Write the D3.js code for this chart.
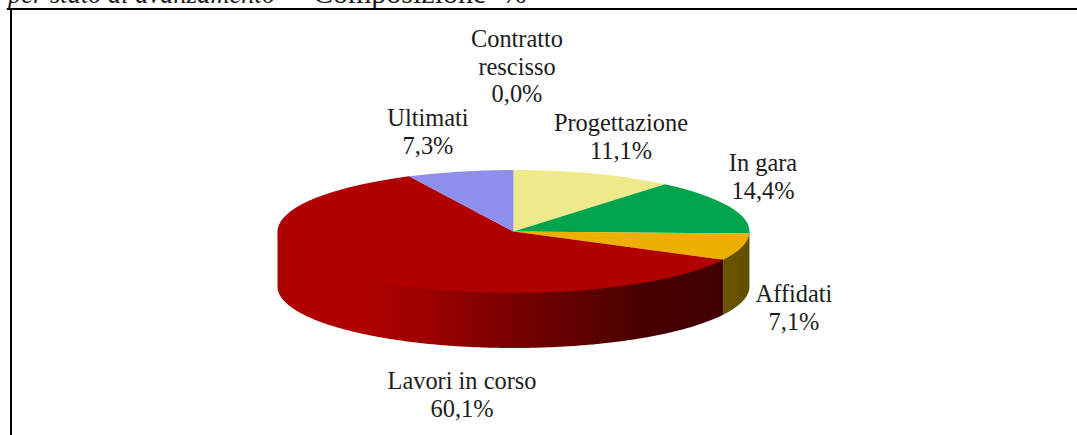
<!DOCTYPE html>
<html><head><meta charset="utf-8"><script src="https://cdn.jsdelivr.net/npm/d3@7"></script>
<style>html,body{margin:0;background:#fff;overflow:hidden}svg{display:block}text{font-family:"Liberation Serif",serif;fill:#1c1c1c}</style></head>
<body><svg id="c" width="1077" height="435"></svg>
<script>
const categories=["Progettazione","In gara","Affidati","Lavori in corso","Contratto rescisso","Ultimati"];
const values=[11.1,14.4,7.1,60.1,0.0,7.3];
const topColors=["#eeea8c","#00a44c","#ecb000","#b00000","#808080","#8e8eec"];
const labelLines=[["Progettazione","11,1%"],["In gara","14,4%"],["Affidati","7,1%"],["Lavori in corso","60,1%"],["Contratto","rescisso","0,0%"],["Ultimati","7,3%"]];
const labelPos=[[621,131],[763,171],[794,302],[462,389],[517,47],[428,126]];

const W=1077,H=435,cx=513.5,cy=231.5,rx=236,ry=61.5,depth=55;
const svg=d3.select("#c");
const defs=svg.append("defs");
const xs=d3.scaleLinear().domain([278,749]).range([0,1]);
const grad=defs.append("linearGradient").attr("id","red").attr("gradientUnits","userSpaceOnUse")
 .attr("x1",278).attr("x2",749).attr("y1",0).attr("y2",0);
[[278,"#aa0000"],[295,"#b00000"],[360,"#b00000"],[430,"#9c0000"],[510,"#7a0000"],[590,"#5c0000"],[650,"#460000"],[749,"#400000"]]
 .forEach(s=>grad.append("stop").attr("offset",xs(s[0])).attr("stop-color",s[1]));
const grad2=defs.append("linearGradient").attr("id","amber").attr("gradientUnits","userSpaceOnUse")
 .attr("x1",723).attr("x2",749).attr("y1",0).attr("y2",0);
grad2.append("stop").attr("offset",0).attr("stop-color","#6a5400");
grad2.append("stop").attr("offset",1).attr("stop-color","#625000");

const pie=d3.pie().sort(null).value(d=>d)(values);
const px=a=>cx+rx*Math.sin(a), py=a=>cy-ry*Math.cos(a);

const wall=d3.line();
pie.forEach((p,i)=>{
  const a0=Math.max(p.startAngle,Math.PI/2), a1=Math.min(p.endAngle,Math.PI*1.5);
  if(a1<=a0) return;
  const as=d3.range(a0,a1,0.01).concat([a1]);
  const top=as.map(a=>[px(a),py(a)-1.5]), bot=as.slice().reverse().map(a=>[px(a),py(a)+depth]);
  svg.append("path").attr("d",wall(top.concat(bot))+"Z")
    .attr("fill",i===3?"url(#red)":i===2?"url(#amber)":topColors[i]);
});

const arc=d3.arc().innerRadius(0).outerRadius(rx);
const g=svg.append("g").attr("transform",`translate(${cx},${cy}) scale(1,${ry/rx})`);
g.selectAll("path").data(pie).join("path").attr("d",arc).attr("fill",(d,i)=>topColors[i]);

labelLines.forEach((ls,i)=>{
  const t=svg.append("text").attr("text-anchor","middle").attr("font-size",24.4);
  ls.forEach((s,j)=>t.append("tspan").attr("x",labelPos[i][0]).attr("y",labelPos[i][1]+j*27.6).text(s));
});

svg.append("text").attr("x",8).attr("y",3).attr("font-size",26.5).attr("font-style","italic").text("per stato di avanzamento");
svg.append("text").attr("x",282).attr("y",3).attr("font-size",26.5).text("–");
svg.append("text").attr("x",313).attr("y",3).attr("font-size",30).attr("word-spacing",8).text("Composizione %");
svg.append("line").attr("x1",7).attr("x2",W).attr("y1",9).attr("y2",9).attr("stroke","#000").attr("stroke-width",2);
svg.append("line").attr("x1",11).attr("x2",11).attr("y1",8).attr("y2",H).attr("stroke","#000").attr("stroke-width",2);
</script></body></html>
